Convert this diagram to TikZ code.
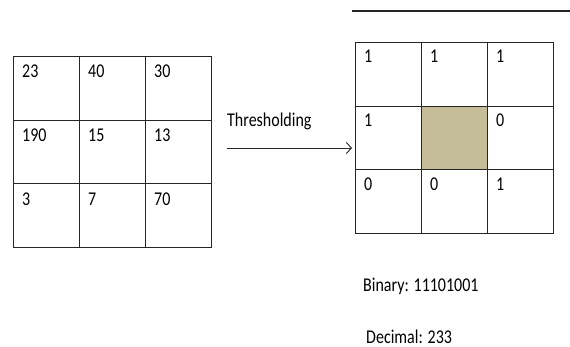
\documentclass[tikz,border=0pt]{standalone}
\usepackage{fontspec}
\usepackage{graphicx}
\setmainfont{Carlito}
\usetikzlibrary{arrows.meta,calc}
\newcommand{\tallt}[1]{\scalebox{1}[1.22]{#1}}
\begin{document}
\begin{tikzpicture}[x=1pt,y=-1pt,
  cell/.style={draw=black!85,line width=0.9pt,minimum width=66pt,minimum height=63.7pt,anchor=north west,inner sep=0pt},
  num/.style={anchor=base west,inner sep=0pt,font=\fontsize{16}{18}\selectfont,text=black},
  lbl/.style={anchor=base west,inner sep=0pt,font=\fontsize{16}{18}\selectfont,text=black}]
\useasboundingbox (0,0) rectangle (570,347);
% left grid
\foreach \v [count=\i from 0] in {23,40,30,190,15,13,3,7,70}{
  \pgfmathtruncatemacro{\r}{div(\i,3)}
  \pgfmathtruncatemacro{\c}{mod(\i,3)}
  \node[cell] (L\i) at ({13+66*\c},{56+63.7*\r}) {};
  \node[num] (LT\i) at ($(L\i.north west)+(9,22)$) {\tallt{\v}};
}
% right grid
\foreach \v [count=\i from 0] in {1,1,1,1,,0,0,0,1}{
  \pgfmathtruncatemacro{\r}{div(\i,3)}
  \pgfmathtruncatemacro{\c}{mod(\i,3)}
  \ifnum\i=4
    \node[cell,fill={rgb,255:red,196;green,189;blue,151}] (R\i) at ({355+66*\c},{42+63.7*\r}) {};
  \else
    \node[cell] (R\i) at ({355+66*\c},{42+63.7*\r}) {};
    \node[num] (RT\i) at ($(R\i.north west)+(9,21)$) {\tallt{\v}};
  \fi
}
% arrow
\coordinate (as) at (227,148);
\coordinate (ae) at (352,148);
\draw[line width=0.9pt,black!85,-{Straight Barb[length=5pt,width=11pt,line width=0.9pt]}] (as) -- (ae);
\node[lbl] (thr) at (227,127) {\tallt{Thresholding}};
% top line
\coordinate (tl1) at (352,11);
\coordinate (tl2) at (570,11);
\draw[line width=1.3pt,black!85] (tl1) -- (tl2);
% texts
\node[lbl] (bin) at (363,291) {\tallt{Binary: 11101001}};
\node[lbl] (dec) at (366,343) {\tallt{Decimal: 233}};
\end{tikzpicture}
\end{document}
